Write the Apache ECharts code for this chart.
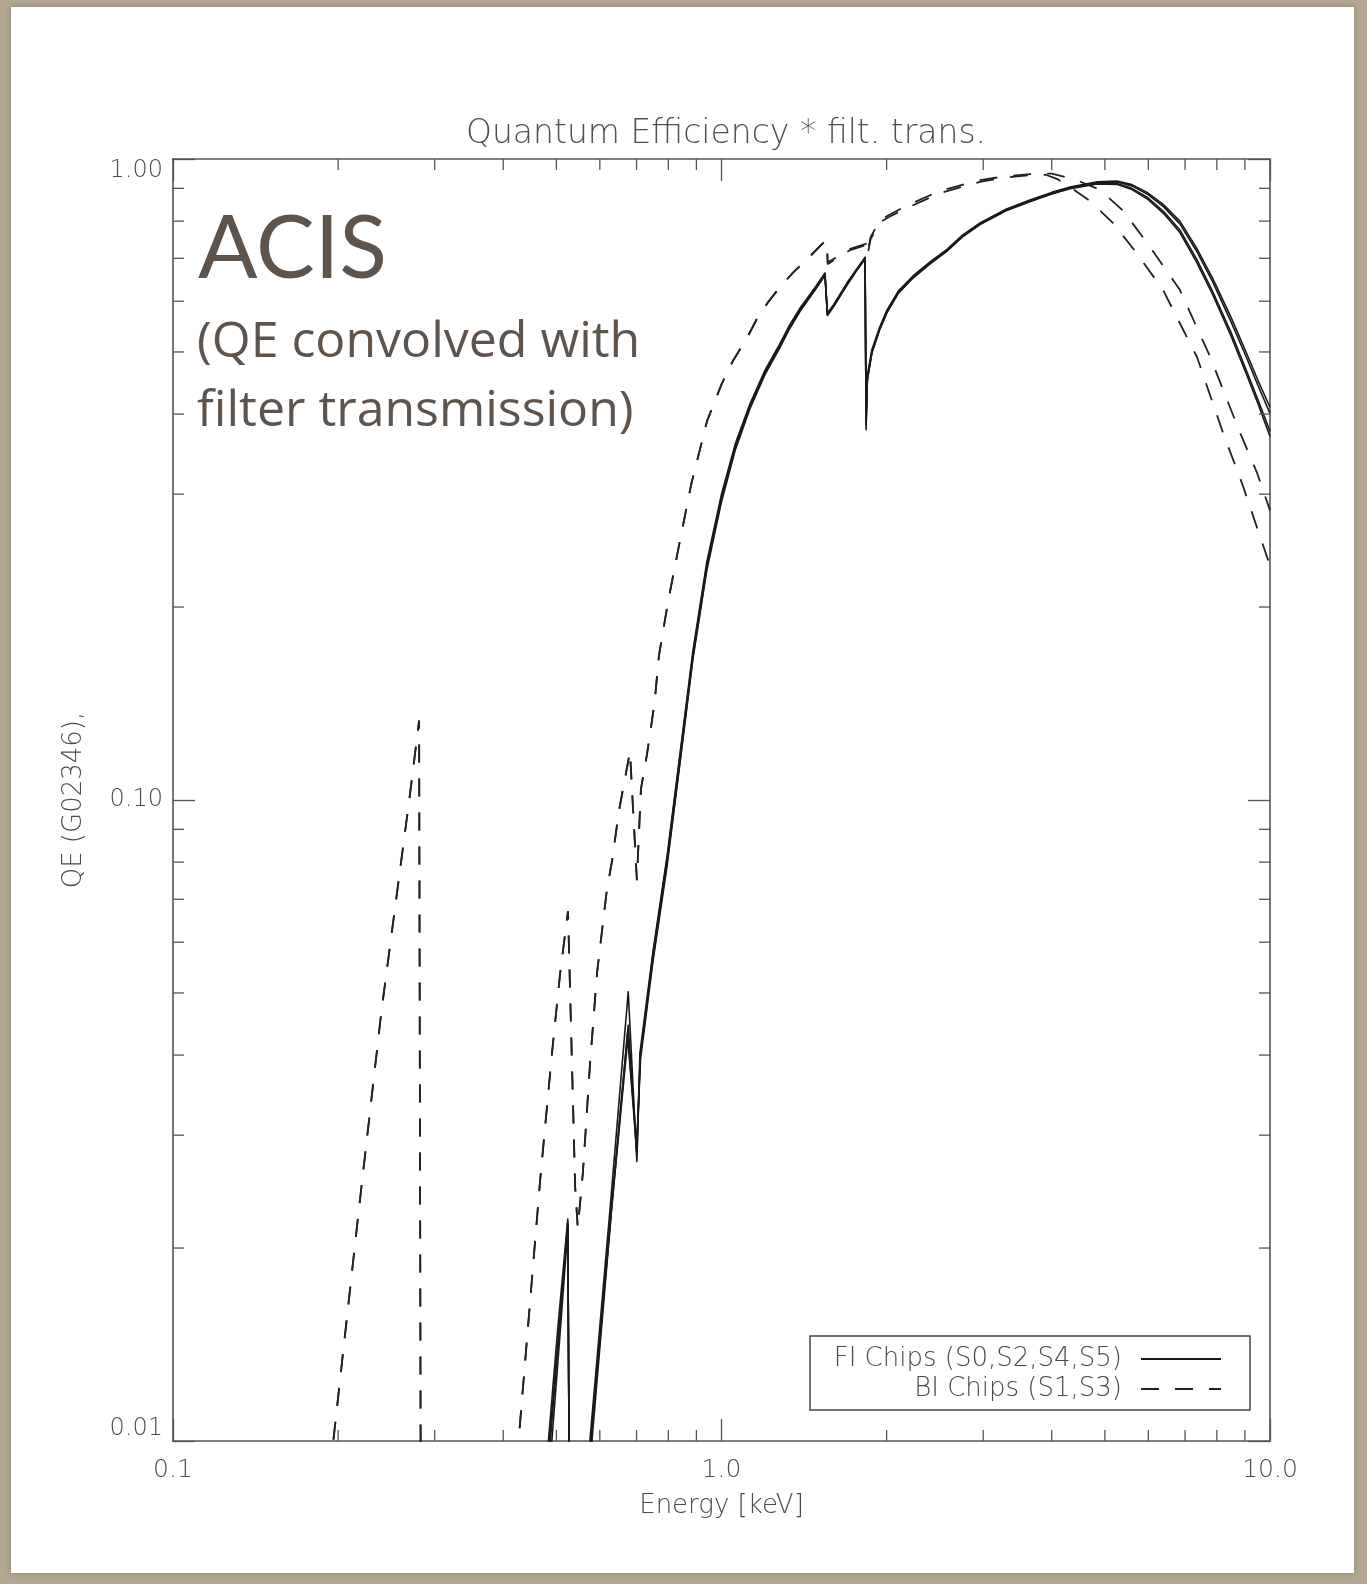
<!DOCTYPE html>
<html><head><meta charset="utf-8">
<script src="https://cdn.jsdelivr.net/npm/echarts@6/dist/echarts.min.js"></script>
<style>html,body{margin:0;padding:0;background:#b2a791;}#chart{width:1367px;height:1584px;}</style>
</head><body><div id="chart"></div>
<script>
// ---- axis tick labels ----
const xTickLabels = ['0.1', '1.0', '10.0'];
const yTickLabels = ['0.01', '0.10', '1.00'];
const xMinorTicks = [0.2, 0.3, 0.4, 0.5, 0.6, 0.7, 0.8, 0.9, 2, 3, 4, 5, 6, 7, 8, 9];
const yMinorTicks = [0.02, 0.03, 0.04, 0.05, 0.06, 0.07, 0.08, 0.09, 0.2, 0.3, 0.4, 0.5, 0.6, 0.7, 0.8, 0.9];

const fiName = 'FI Chips (S0,S2,S4,S5)';
const biName = 'BI Chips (S1,S3)';

// ---- FI chips (solid) : [energy keV, QE] ----
const fiS0 = [[0.47,0.0068],[0.484,0.0101],[0.503,0.0150],[0.5245,0.0222],[0.5305,0.004],[0.56,0.004],[0.576,0.0101],[0.626,0.0229],[0.676,0.0502],[0.701,0.0273],[0.71,0.0403],[0.75,0.058],[0.796,0.082],[0.84,0.118],[0.887,0.171],[0.94,0.235],[1.0,0.30],[1.06,0.36],[1.127,0.415],[1.2,0.468],[1.278,0.515],[1.33,0.55],[1.39,0.585],[1.48,0.63],[1.544,0.664],[1.56,0.575],[1.6,0.592],[1.694,0.641],[1.76,0.672],[1.827,0.703],[1.835,0.378],[1.845,0.46],[1.88,0.504],[1.94,0.545],[2.003,0.581],[2.1,0.622],[2.234,0.657],[2.4,0.691],[2.577,0.723],[2.75,0.761],[2.96,0.795],[3.3,0.835],[3.65,0.863],[4.0,0.887],[4.32,0.904],[4.84,0.921],[5.26,0.924],[5.6,0.912],[5.97,0.887],[6.4,0.848],[6.85,0.8],[7.35,0.726],[7.87,0.65],[8.5,0.565],[9.08,0.496],[9.5,0.452],[10,0.41]];
const fiS2 = [[0.47,0.0064],[0.488,0.0101],[0.506,0.0150],[0.5245,0.0218],[0.5305,0.004],[0.56,0.004],[0.578,0.0101],[0.628,0.0225],[0.676,0.0445],[0.701,0.0278],[0.711,0.040],[0.75,0.0575],[0.796,0.081],[0.84,0.117],[0.887,0.169],[0.94,0.232],[1.0,0.297],[1.06,0.357],[1.127,0.412],[1.2,0.465],[1.278,0.512],[1.33,0.547],[1.39,0.582],[1.48,0.627],[1.544,0.661],[1.56,0.572],[1.6,0.59],[1.694,0.638],[1.76,0.67],[1.827,0.70],[1.835,0.39],[1.845,0.455],[1.88,0.50],[1.94,0.542],[2.003,0.578],[2.1,0.619],[2.234,0.654],[2.4,0.688],[2.577,0.72],[2.75,0.758],[2.96,0.792],[3.3,0.832],[3.65,0.86],[4.0,0.885],[4.32,0.902],[4.84,0.919],[5.26,0.921],[5.6,0.908],[5.97,0.882],[6.4,0.842],[6.85,0.792],[7.35,0.718],[7.87,0.642],[8.5,0.556],[9.08,0.488],[9.5,0.444],[10,0.401]];
const fiS4 = [[0.47,0.0062],[0.491,0.0101],[0.509,0.0151],[0.5245,0.0214],[0.5305,0.004],[0.56,0.004],[0.581,0.0101],[0.63,0.0228],[0.674,0.0432],[0.70,0.0285],[0.712,0.0395],[0.75,0.056],[0.796,0.079],[0.84,0.114],[0.887,0.166],[0.94,0.228],[1.0,0.292],[1.06,0.352],[1.127,0.408],[1.2,0.461],[1.278,0.508],[1.33,0.543],[1.39,0.578],[1.48,0.624],[1.544,0.658],[1.56,0.57],[1.6,0.588],[1.694,0.636],[1.76,0.668],[1.827,0.698],[1.835,0.40],[1.845,0.452],[1.88,0.498],[1.94,0.54],[2.003,0.576],[2.1,0.617],[2.234,0.652],[2.4,0.686],[2.577,0.718],[2.75,0.756],[2.96,0.79],[3.3,0.83],[3.65,0.858],[4.0,0.883],[4.32,0.9],[4.84,0.916],[5.26,0.916],[5.6,0.9],[5.97,0.872],[6.4,0.828],[6.85,0.775],[7.35,0.698],[7.87,0.62],[8.5,0.535],[9.08,0.465],[9.5,0.422],[10,0.376]];
const fiS5 = [[0.47,0.0065],[0.486,0.0101],[0.507,0.0152],[0.5245,0.0220],[0.5305,0.004],[0.56,0.004],[0.579,0.0101],[0.629,0.0226],[0.675,0.0425],[0.701,0.029],[0.711,0.0398],[0.75,0.0565],[0.796,0.080],[0.84,0.115],[0.887,0.167],[0.94,0.23],[1.0,0.294],[1.06,0.354],[1.127,0.41],[1.2,0.463],[1.278,0.51],[1.33,0.545],[1.39,0.58],[1.48,0.625],[1.544,0.66],[1.56,0.571],[1.6,0.589],[1.694,0.637],[1.76,0.669],[1.827,0.699],[1.835,0.385],[1.845,0.454],[1.88,0.499],[1.94,0.541],[2.003,0.577],[2.1,0.618],[2.234,0.653],[2.4,0.687],[2.577,0.719],[2.75,0.757],[2.96,0.791],[3.3,0.831],[3.65,0.859],[4.0,0.882],[4.32,0.899],[4.84,0.914],[5.26,0.913],[5.6,0.896],[5.97,0.867],[6.4,0.822],[6.85,0.768],[7.35,0.69],[7.87,0.613],[8.5,0.528],[9.08,0.459],[9.5,0.416],[10,0.369]];

// ---- BI chips (dashed) ----
const biS1 = [[0.18,0.0062],[0.196,0.01],[0.218,0.0228],[0.24,0.047],[0.2696,0.10],[0.281,0.133],[0.2836,0.003],[0.40,0.003],[0.41,0.0066],[0.429,0.0106],[0.467,0.0255],[0.491,0.0404],[0.508,0.0537],[0.525,0.0671],[0.541,0.0249],[0.547,0.0215],[0.559,0.0263],[0.576,0.0389],[0.593,0.0537],[0.618,0.0724],[0.632,0.0806],[0.65,0.096],[0.681,0.119],[0.701,0.075],[0.713,0.104],[0.731,0.1175],[0.755,0.1417],[0.769,0.168],[0.80,0.205],[0.837,0.25],[0.88,0.31],[0.941,0.39],[1.0,0.445],[1.05,0.485],[1.108,0.522],[1.16,0.563],[1.216,0.598],[1.278,0.631],[1.35,0.665],[1.438,0.70],[1.531,0.739],[1.555,0.745],[1.562,0.685],[1.6,0.695],[1.716,0.721],[1.842,0.735],[1.847,0.71],[1.87,0.75],[1.945,0.797],[2.02,0.812],[2.179,0.839],[2.503,0.885],[2.96,0.921],[3.3,0.936],[3.65,0.944],[3.9,0.945],[4.1,0.93],[4.32,0.904],[4.7,0.86],[5.17,0.795],[5.7,0.715],[6.38,0.625],[7.36,0.491],[8.21,0.374],[8.89,0.312],[10,0.232]];
const biS3 = [[0.18,0.0062],[0.196,0.01],[0.218,0.0228],[0.24,0.047],[0.2696,0.10],[0.281,0.133],[0.2836,0.003],[0.40,0.003],[0.41,0.0066],[0.429,0.0106],[0.467,0.0255],[0.491,0.0404],[0.508,0.0537],[0.525,0.0671],[0.541,0.0249],[0.547,0.0215],[0.559,0.0263],[0.576,0.0389],[0.593,0.0537],[0.618,0.0724],[0.632,0.0806],[0.65,0.096],[0.681,0.119],[0.701,0.075],[0.713,0.104],[0.731,0.1175],[0.755,0.1417],[0.769,0.168],[0.80,0.205],[0.837,0.25],[0.88,0.31],[0.941,0.39],[1.0,0.445],[1.05,0.485],[1.108,0.522],[1.16,0.563],[1.216,0.598],[1.278,0.631],[1.35,0.665],[1.438,0.70],[1.531,0.739],[1.555,0.745],[1.562,0.69],[1.6,0.698],[1.716,0.724],[1.842,0.738],[1.847,0.715],[1.87,0.755],[1.945,0.803],[2.02,0.818],[2.179,0.846],[2.503,0.892],[2.96,0.927],[3.3,0.94],[3.65,0.947],[4.0,0.949],[4.4,0.93],[4.9,0.895],[5.4,0.83],[5.97,0.74],[6.85,0.625],[7.78,0.491],[8.82,0.374],[9.47,0.324],[10,0.283]];

const AX = '#555';
const TXT = '#4a4a4a';
const FONT = 'DejaVu Sans';

const tickData = xMinorTicks.map(v => [v, 0.01, 0]).concat(yMinorTicks.map(v => [0.1, v, 1]));

function minorTicks(params, api) {
  const cs = params.coordSys;
  const kind = api.value(2);
  const p = api.coord([api.value(0), api.value(1)]);
  const L = 11;
  const st = { stroke: AX, lineWidth: 1.3 };
  if (kind === 0) {
    return { type: 'group', children: [
      { type: 'line', shape: { x1: p[0], y1: cs.y + cs.height, x2: p[0], y2: cs.y + cs.height - L }, style: st },
      { type: 'line', shape: { x1: p[0], y1: cs.y, x2: p[0], y2: cs.y + L }, style: st }
    ]};
  }
  return { type: 'group', children: [
    { type: 'line', shape: { x1: cs.x, y1: p[1], x2: cs.x + L, y2: p[1] }, style: st },
    { type: 'line', shape: { x1: cs.x + cs.width, y1: p[1], x2: cs.x + cs.width - L, y2: p[1] }, style: st }
  ]};
}

function solid(name, data) {
  return { name: name, type: 'line', data: data, symbol: 'none', showSymbol: false, clip: true,
    lineStyle: { color: '#1a1a1a', width: 1.6, type: 'solid', join: 'round' }, itemStyle: { color: '#1a1a1a' },
    emphasis: { disabled: true }, animation: false, z: 3 };
}
function dashed(name, data) {
  return { name: name, type: 'line', data: data, symbol: 'none', showSymbol: false, clip: true,
    lineStyle: { color: '#222', width: 1.8, type: [18, 16] }, itemStyle: { color: '#222' },
    emphasis: { disabled: true }, animation: false, z: 3 };
}

const logAxisCommon = {
  type: 'log', logBase: 10,
  splitLine: { show: false },
  minorTick: { show: false },
  axisLine: { show: true, lineStyle: { color: AX, width: 1.6 } },
  axisTick: { show: true, inside: true, length: 22, lineStyle: { color: AX, width: 1.3 } }
};

const chart = echarts.init(document.getElementById('chart'), null, { renderer: 'canvas', width: 1367, height: 1584 });
chart.setOption({
  animation: false,
  backgroundColor: '#b2a791',
  title: {
    text: 'Quantum Efficiency * filt. trans.',
    left: 721, top: 113, textAlign: 'center',
    textStyle: { fontFamily: FONT, fontSize: 33, fontWeight: 200, color: '#505050' }
  },
  grid: { left: 173, top: 159, width: 1097, height: 1282, show: false },
  xAxis: [
    Object.assign({}, logAxisCommon, {
      position: 'bottom', min: 0.1, max: 10,
      name: 'Energy [keV]', nameLocation: 'middle', nameGap: 52,
      nameTextStyle: { fontFamily: FONT, fontSize: 26, fontWeight: 200, color: TXT },
      axisLabel: { show: true, margin: 17, fontFamily: FONT, fontSize: 25, fontWeight: 200, color: TXT,
        formatter: v => xTickLabels[Math.round(Math.log10(v)) + 1] }
    }),
    Object.assign({}, logAxisCommon, { position: 'top', min: 0.1, max: 10, axisLabel: { show: false } })
  ],
  yAxis: [
    Object.assign({}, logAxisCommon, {
      position: 'left', min: 0.01, max: 1,
      name: 'QE (G02346),', nameLocation: 'middle', nameGap: 86, nameRotate: 90,
      nameTextStyle: { fontFamily: FONT, fontSize: 26, fontWeight: 200, color: TXT },
      axisLabel: { show: true, margin: 10, fontFamily: FONT, fontSize: 24, fontWeight: 200, color: TXT,
        verticalAlignMinLabel: 'bottom', verticalAlignMaxLabel: 'top',
        formatter: v => yTickLabels[Math.round(Math.log10(v)) + 2] }
    }),
    Object.assign({}, logAxisCommon, { position: 'right', min: 0.01, max: 1, axisLabel: { show: false } })
  ],
  legend: {
    data: [{ name: fiName }, { name: biName }],
    orient: 'vertical', align: 'right',
    right: 145, top: 1346, padding: 0,
    itemWidth: 80, itemHeight: 14, itemGap: 4,
    selectedMode: false,
    itemStyle: { opacity: 0 },
    lineStyle: { opacity: 1 },
    textStyle: { fontFamily: FONT, fontSize: 26, fontWeight: 200, color: TXT, padding: [0, 14, 0, 0] }
  },
  graphic: [
    { type: 'rect', z: -10, shape: { x: 11, y: 7, width: 1343, height: 1566 },
      style: { fill: '#ffffff', shadowBlur: 5, shadowColor: 'rgba(60,50,40,0.35)' } },
    { type: 'rect', z: 1, shape: { x: 810, y: 1336, width: 440, height: 74 },
      style: { fill: '#ffffff', stroke: '#444', lineWidth: 1.5 } },
    { type: 'text', z: 5, x: 198, y: 250,
      style: { text: 'ACIS', fontFamily: 'Lato', fontSize: 88, fill: '#5d544d', verticalAlign: 'middle' } },
    { type: 'text', z: 5, x: 197, y: 343,
      style: { text: '(QE convolved with', fontFamily: 'Open Sans', fontSize: 50, fill: '#5d544d', verticalAlign: 'middle' } },
    { type: 'text', z: 5, x: 197, y: 412,
      style: { text: 'filter transmission)', fontFamily: 'Open Sans', fontSize: 50, fill: '#5d544d', verticalAlign: 'middle' } }
  ],
  series: [
    solid(fiName, fiS0), solid(fiName, fiS2), solid(fiName, fiS4), solid(fiName, fiS5),
    dashed(biName, biS1), dashed(biName, biS3),
    { type: 'custom', name: 'minorTicks', data: tickData, renderItem: minorTicks, silent: true,
      encode: { x: 0, y: 1 }, animation: false, z: 4 }
  ]
});
</script>
</body></html>
